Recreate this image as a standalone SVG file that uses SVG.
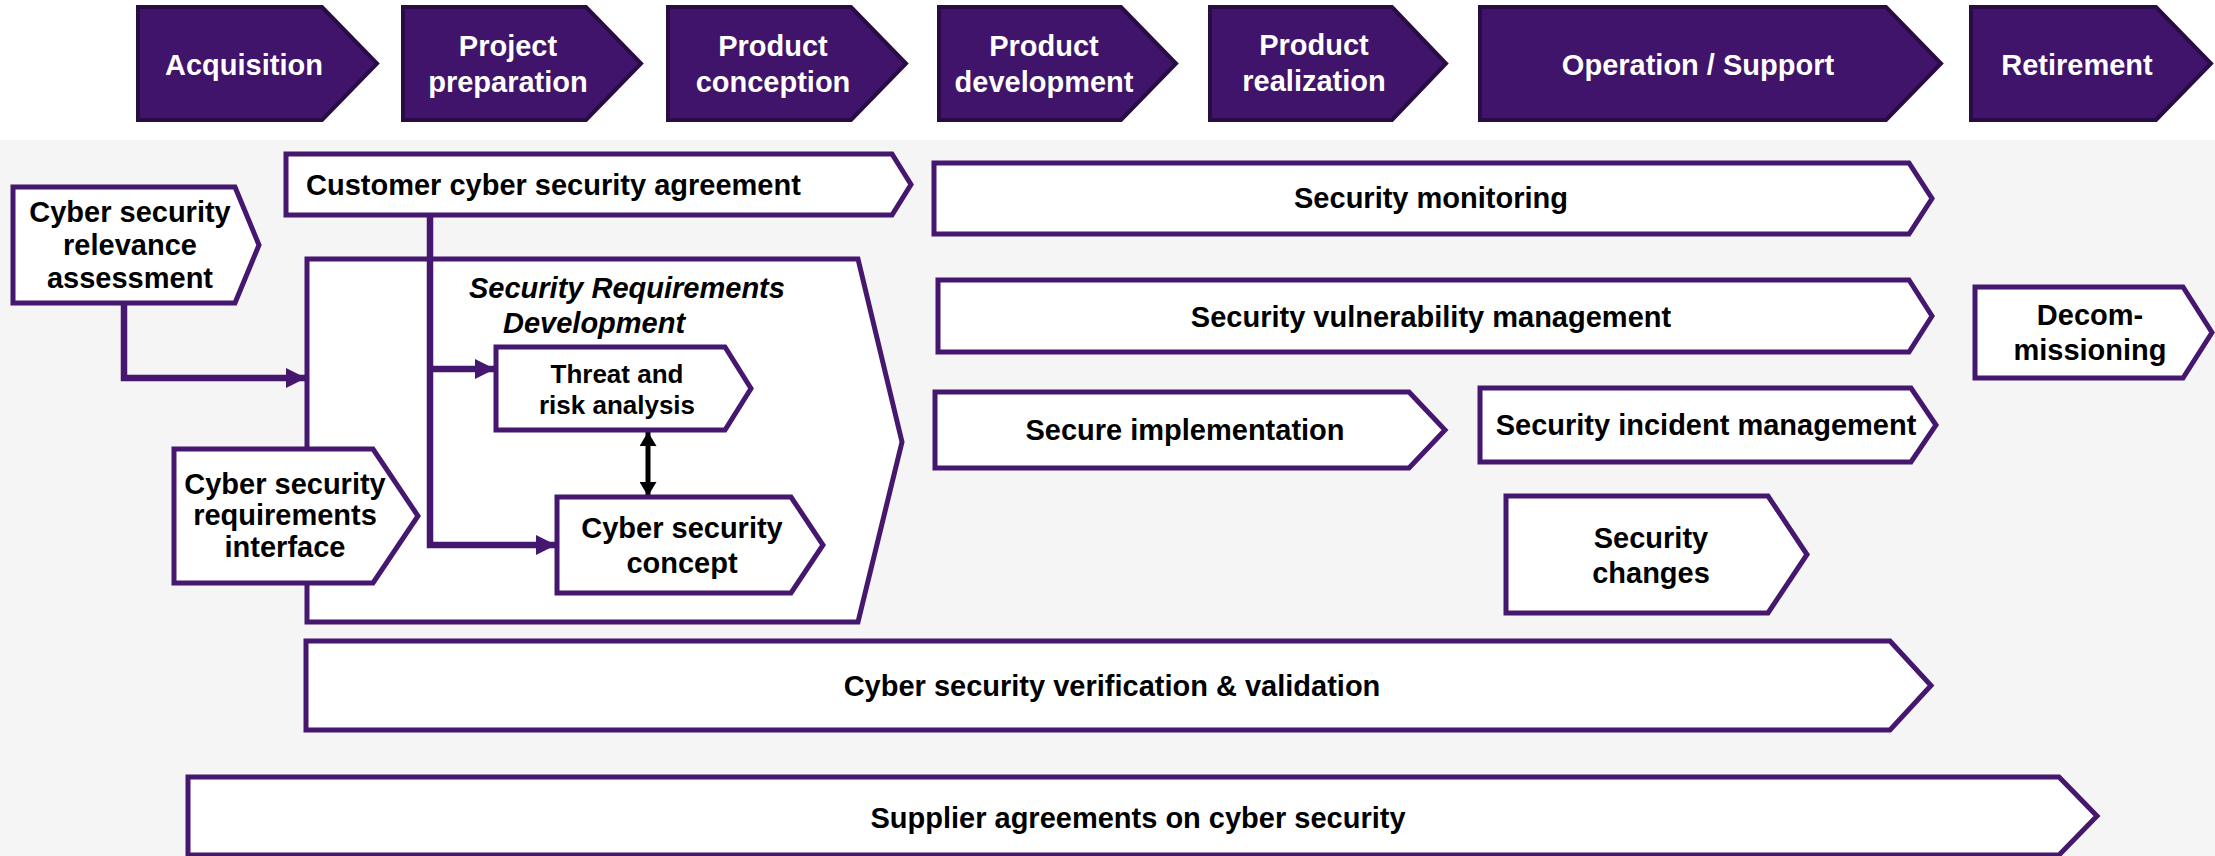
<svg xmlns="http://www.w3.org/2000/svg" width="2215" height="856" viewBox="0 0 2215 856">
<style>
.phase{fill:#40146A;stroke:#2A0C45;stroke-width:4;stroke-linejoin:miter}
.pt{font-family:"Liberation Sans",Arial,sans-serif;font-weight:bold;font-size:29px;fill:#FFFFFF;text-anchor:middle}
.box{fill:#FFFFFF;stroke:#45176F;stroke-width:5;stroke-linejoin:miter}
.bt{font-family:"Liberation Sans",Arial,sans-serif;font-weight:bold;font-size:29px;fill:#000000;text-anchor:middle}
.st{font-size:26px}
.it{font-style:italic;text-anchor:start}
.con{fill:none;stroke:#45176F;stroke-width:6.5}
.dbl{fill:none;stroke:#000000;stroke-width:5}
</style>
<defs>
<marker id="pa" markerUnits="userSpaceOnUse" markerWidth="22" markerHeight="20" refX="20" refY="10" orient="auto">
<polygon points="0,0 20,10 0,20" fill="#45176F"/>
</marker>
<marker id="ba" markerUnits="userSpaceOnUse" markerWidth="15" markerHeight="17" refX="14" refY="8.5" orient="auto-start-reverse">
<polygon points="0,0 14,8.5 0,17" fill="#000000"/>
</marker>
</defs>
<rect x="0" y="0" width="2215" height="856" fill="#FFFFFF"/>
<rect x="0" y="140" width="2215" height="716" fill="#F5F5F5"/>

<g id="phase-acquisition"><polygon class="phase" points="138,7 322,7 377,63.5 322,120 138,120"/><text class="pt" x="244" y="75">Acquisition</text></g>
<g id="phase-project-preparation"><polygon class="phase" points="403,7 586,7 641,63.5 586,120 403,120"/><text class="pt" x="508" y="56">Project</text><text class="pt" x="508" y="92">preparation</text></g>
<g id="phase-product-conception"><polygon class="phase" points="668,7 851,7 906,63.5 851,120 668,120"/><text class="pt" x="773" y="56">Product</text><text class="pt" x="773" y="92">conception</text></g>
<g id="phase-product-development"><polygon class="phase" points="939,7 1121,7 1176,63.5 1121,120 939,120"/><text class="pt" x="1044" y="56">Product</text><text class="pt" x="1044" y="92">development</text></g>
<g id="phase-product-realization"><polygon class="phase" points="1210,7 1392,7 1446,63.5 1392,120 1210,120"/><text class="pt" x="1314" y="55">Product</text><text class="pt" x="1314" y="91">realization</text></g>
<g id="phase-operation-support"><polygon class="phase" points="1480,7 1886,7 1941,63.5 1886,120 1480,120"/><text class="pt" x="1698" y="75">Operation / Support</text></g>
<g id="phase-retirement"><polygon class="phase" points="1971,7 2156,7 2211,63.5 2156,120 1971,120"/><text class="pt" x="2077" y="75">Retirement</text></g>

<g id="customer-agreement"><polygon class="box" points="286,154 892,154 911,184.5 892,215 286,215"/><text class="bt" x="306" y="195" style="text-anchor:start">Customer cyber security agreement</text></g>
<g id="relevance-assessment"><polygon class="box" points="13,187 235,187 259,245 235,303 13,303"/><text class="bt" x="130" y="222">Cyber security</text><text class="bt" x="130" y="255">relevance</text><text class="bt" x="130" y="288">assessment</text></g>
<g id="security-requirements-development"><polygon class="box" points="307,259 858,259 902,442 858,622 307,622"/><text class="bt it" x="469" y="298">Security Requirements</text><text class="bt it" x="503" y="333">Development</text></g>

<g id="connectors">
<path class="con" d="M124,303 V378 H306" marker-end="url(#pa)"/>
<path class="con" d="M430,214 V545 H556" marker-end="url(#pa)"/>
<path class="con" d="M430,369 H495" marker-end="url(#pa)"/>
<path class="dbl" d="M648,432 V496" marker-start="url(#ba)" marker-end="url(#ba)"/>
</g>

<g id="threat-risk-analysis"><polygon class="box" points="496,347 725,347 751,388.5 725,430 496,430"/><text class="bt st" x="617" y="383">Threat and</text><text class="bt st" x="617" y="414">risk analysis</text></g>
<g id="cyber-security-concept"><polygon class="box" points="557,497 791,497 823,545 791,593 557,593"/><text class="bt" x="682" y="538">Cyber security</text><text class="bt" x="682" y="573">concept</text></g>
<g id="requirements-interface"><polygon class="box" points="174,449 373,449 418,516 373,583 174,583"/><text class="bt" x="285" y="494">Cyber security</text><text class="bt" x="285" y="525">requirements</text><text class="bt" x="285" y="557">interface</text></g>

<g id="security-monitoring"><polygon class="box" points="934,163 1909,163 1932,198.5 1909,234 934,234"/><text class="bt" x="1431" y="208">Security monitoring</text></g>
<g id="vulnerability-management"><polygon class="box" points="938,280 1909,280 1932,316 1909,352 938,352"/><text class="bt" x="1431" y="327">Security vulnerability management</text></g>
<g id="decommissioning"><polygon class="box" points="1975,287 2183,287 2212,332.5 2183,378 1975,378"/><text class="bt" x="2090" y="325">Decom-</text><text class="bt" x="2090" y="360">missioning</text></g>
<g id="secure-implementation"><polygon class="box" points="935,392 1409,392 1445,430 1409,468 935,468"/><text class="bt" x="1185" y="440">Secure implementation</text></g>
<g id="incident-management"><polygon class="box" points="1480,388 1911,388 1936,425 1911,462 1480,462"/><text class="bt" x="1706" y="435">Security incident management</text></g>
<g id="security-changes"><polygon class="box" points="1506,496 1768,496 1807,554.5 1768,613 1506,613"/><text class="bt" x="1651" y="548">Security</text><text class="bt" x="1651" y="583">changes</text></g>
<g id="verification-validation"><polygon class="box" points="306,641 1890,641 1931,685.5 1890,730 306,730"/><text class="bt" x="1112" y="696">Cyber security verification &amp; validation</text></g>
<g id="supplier-agreements"><polygon class="box" points="188,777 2059,777 2097,816 2059,855 188,855"/><text class="bt" x="1138" y="828">Supplier agreements on cyber security</text></g>
</svg>
